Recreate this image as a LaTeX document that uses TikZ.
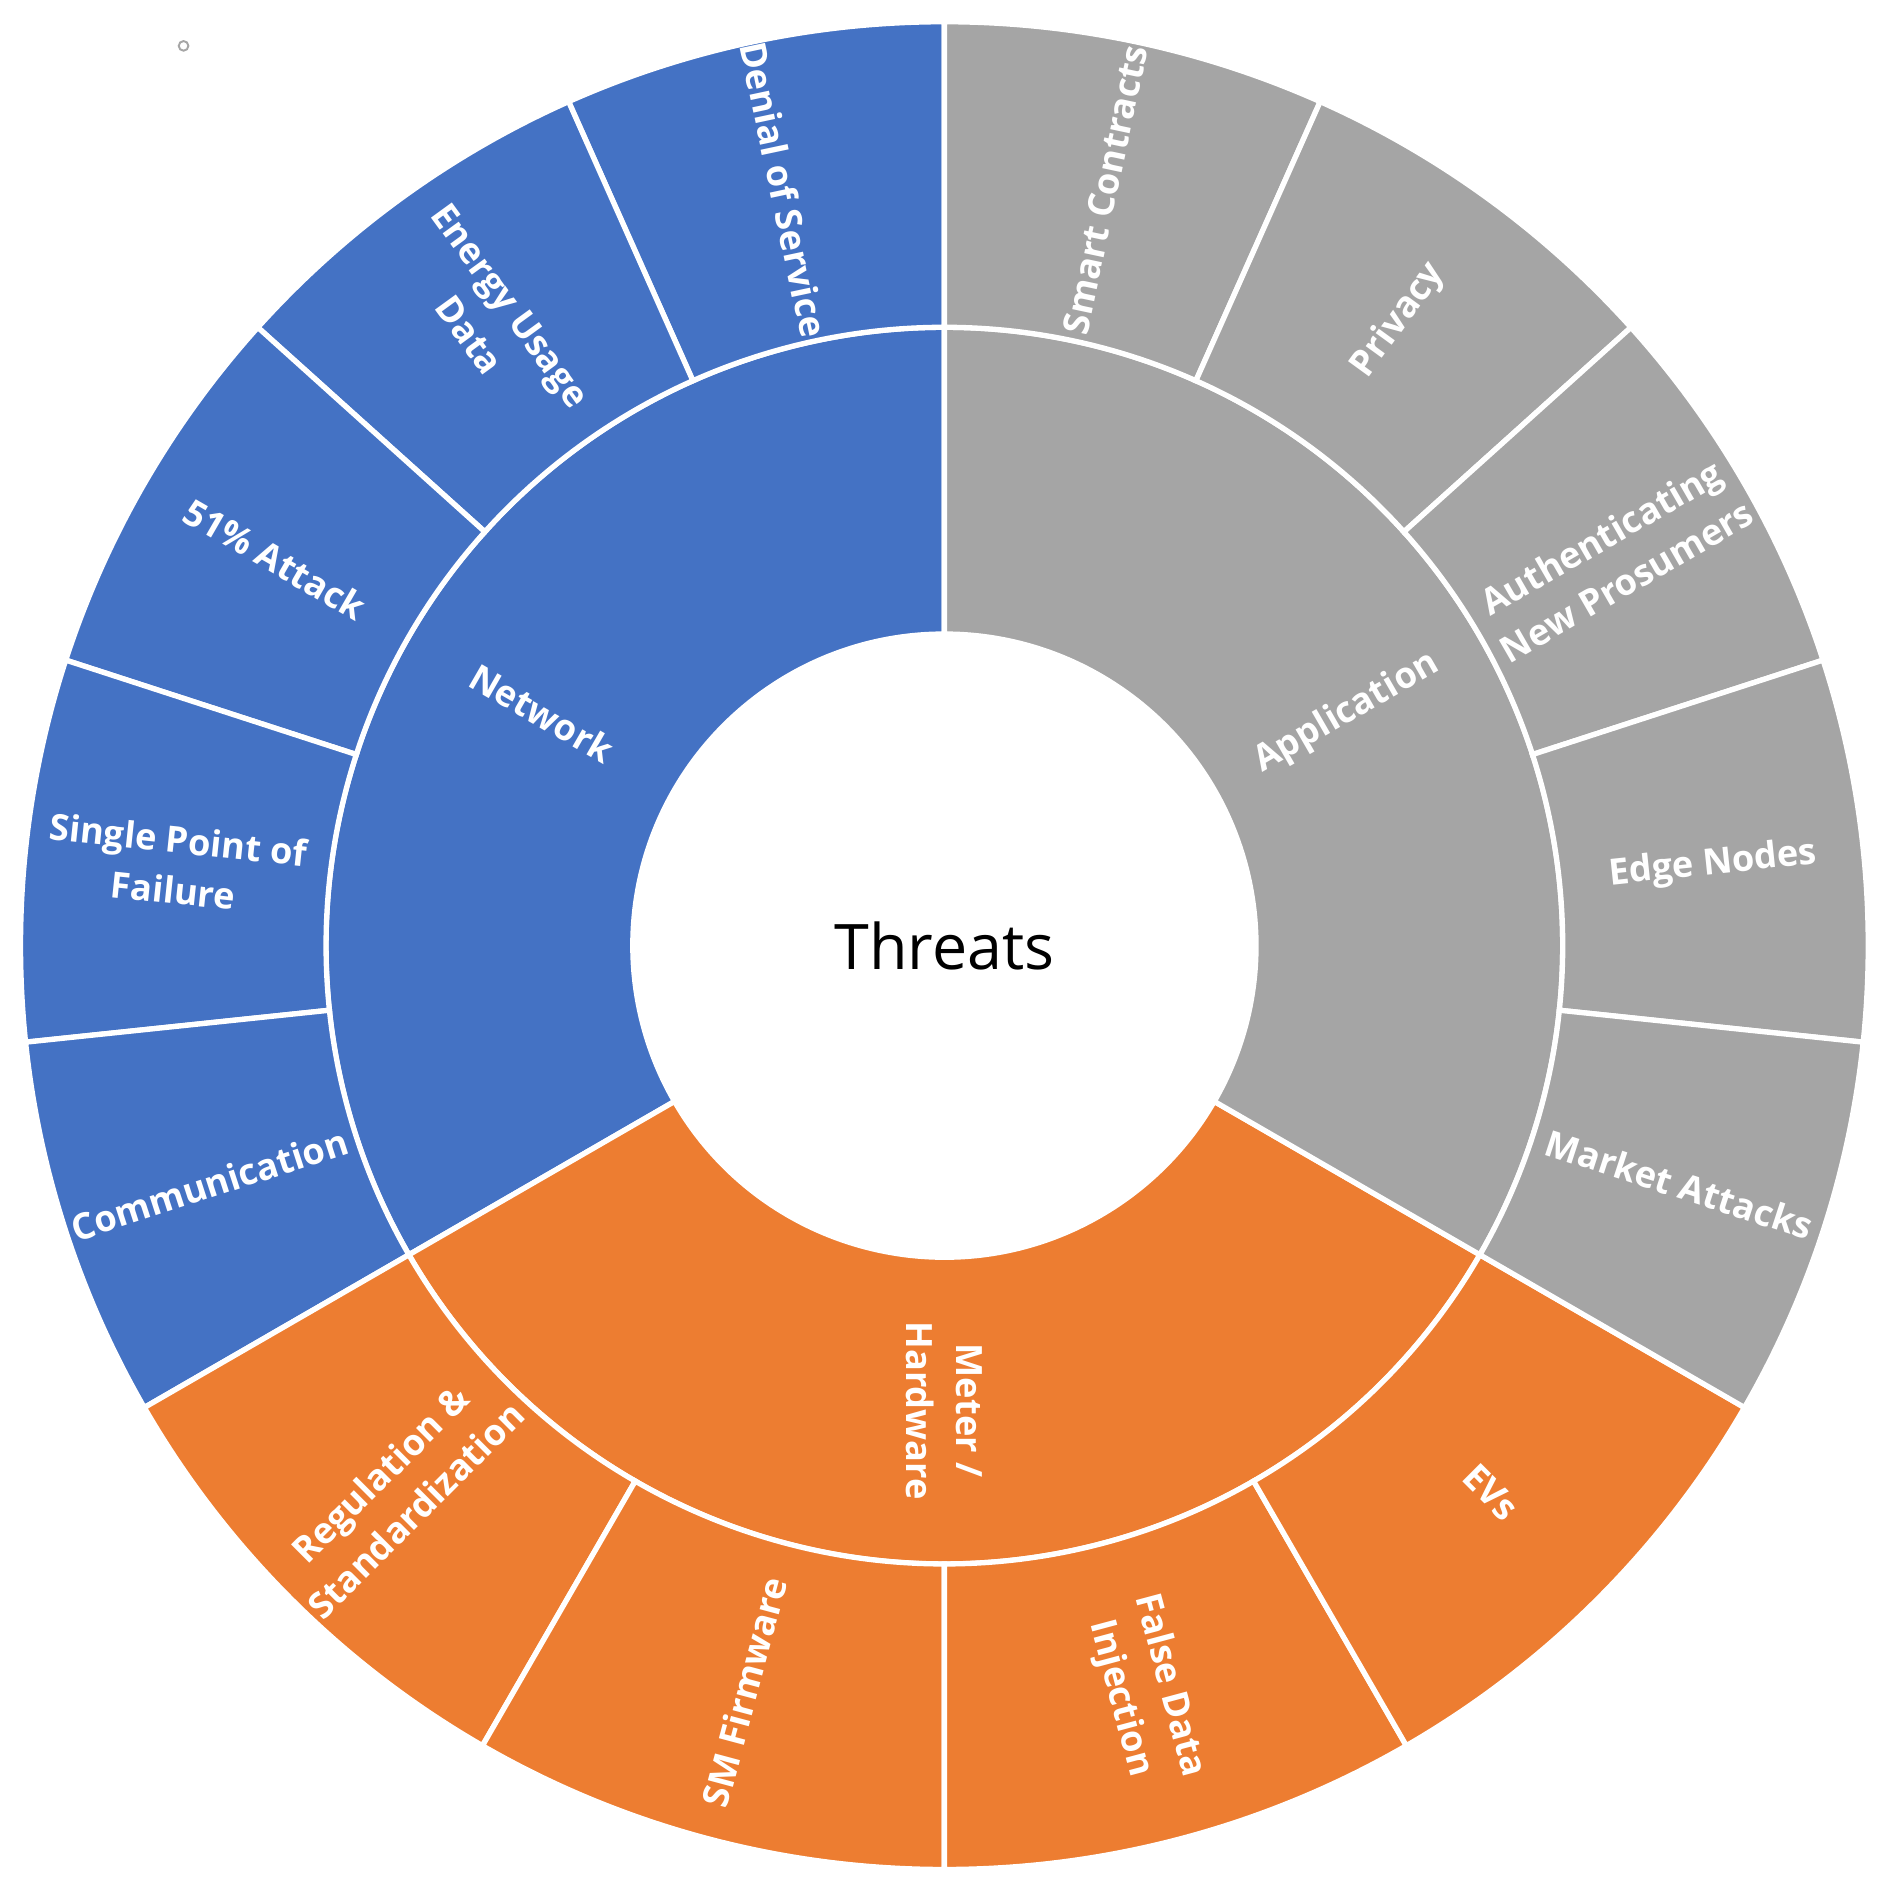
\documentclass[tikz,border=0pt]{standalone}
\usepackage{fontspec}
\setmainfont{Open Sans}
\definecolor{cBlue}{HTML}{4472C4}
\definecolor{cGray}{HTML}{A5A5A5}
\definecolor{cOrange}{HTML}{ED7D31}
\newcommand\mysector[5]{\fill[#1,draw=white,line width=1.1pt] (#2:#4) arc (#2:#3:#4) -- (#3:#5) arc (#3:#2:#5) -- cycle;}
\tikzset{
  lab/.style={text=white,font=\fontsize{7.5}{10.5}\selectfont\bfseries,align=center,inner sep=0pt},
  ilab/.style={text=white,font=\fontsize{7.5}{10.5}\selectfont\bfseries,align=center,inner sep=0pt}
}
\begin{document}
\begin{tikzpicture}[x=0.25pt,y=0.25pt]
\useasboundingbox (-782,-782) rectangle (778,783);
% inner ring
\mysector{cBlue}{90}{210}{258}{512}
\mysector{cOrange}{210}{330}{258}{512}
\mysector{cGray}{-30}{90}{258}{512}
% outer ring: network
\mysector{cBlue}{90}{114}{512}{765}
\mysector{cBlue}{114}{138}{512}{765}
\mysector{cBlue}{138}{162}{512}{765}
\mysector{cBlue}{162}{186}{512}{765}
\mysector{cBlue}{186}{210}{512}{765}
% meter
\mysector{cOrange}{210}{240}{512}{765}
\mysector{cOrange}{240}{270}{512}{765}
\mysector{cOrange}{270}{300}{512}{765}
\mysector{cOrange}{300}{330}{512}{765}
% application
\mysector{cGray}{66}{90}{512}{765}
\mysector{cGray}{42}{66}{512}{765}
\mysector{cGray}{18}{42}{512}{765}
\mysector{cGray}{-6}{18}{512}{765}
\mysector{cGray}{-30}{-6}{512}{765}
% center
\node (c) at (0,0) {\fontsize{13}{15}\selectfont Threats};
% inner labels
\node[ilab,rotate=-30] (net) at (150:385) {Network};
\node[ilab,rotate=30] (app) at (30:385) {Application};
\node[ilab,rotate=-90] (met) at (270:385) {Meter /\\Hardware};
% outer labels
\node[lab,rotate=-78] (n1) at (102:640) {Denial of Service};
\node[lab,rotate=-54] (n2) at (126:640) {Energy Usage\\Data};
\node[lab,rotate=-30] (n3) at (150:640) {51\% Attack};
\node[lab,rotate=-6] (n4) at (174:640) {Single Point of\\Failure};
\node[lab,rotate=18] (n5) at (198:640) {Communication};
\node[lab,rotate=45] (m1) at (225:640) {Regulation \&\\Standardization};
\node[lab,rotate=75] (m2) at (255:640) {SM Firmware};
\node[lab,rotate=-75] (m3) at (285:640) {False Data\\Injection};
\node[lab,rotate=-45] (m4) at (315:640) {EVs};
\node[lab,rotate=78] (a1) at (78:640) {Smart Contracts};
\node[lab,rotate=54] (a2) at (54:640) {Privacy};
\node[lab,rotate=30] (a3) at (30:640) {Authenticating\\New Prosumers};
\node[lab,rotate=6] (a4) at (6:640) {Edge Nodes};
\node[lab,rotate=-18] (a5) at (-18:640) {Market Attacks};
% small mark
\draw[gray!70,line width=0.4pt] (-630,745) circle (4);
\end{tikzpicture}
\end{document}
